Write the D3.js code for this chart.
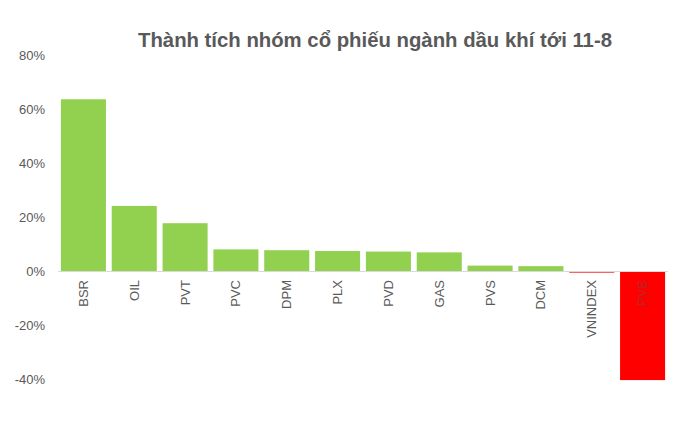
<!DOCTYPE html>
<html>
<head>
<meta charset="utf-8">
<script src="https://cdn.jsdelivr.net/npm/d3@7/dist/d3.min.js"></script>
<style>
  html, body { margin: 0; padding: 0; background: #fff; }
  svg { display: block; font-family: "Liberation Sans", Arial, Helvetica, sans-serif; }
</style>
</head>
<body>
<svg id="chart" width="682" height="426"></svg>
<script>
const title = "Thành tích nhóm cổ phiếu ngành dầu khí tới 11-8";
const categories = ["BSR", "OIL", "PVT", "PVC", "DPM", "PLX", "PVD", "GAS", "PVS", "DCM", "VNINDEX", "PVB"];
const values = [63.6, 24.1, 17.7, 8.0, 7.7, 7.4, 7.2, 6.9, 2.0, 1.8, -0.6, -40.4];
const yTicks = [-40, -20, 0, 20, 40, 60, 80];

const svg = d3.select("#chart");

const x = d3.scaleBand()
  .domain(categories)
  .range([58, 668])
  .paddingInner(0.114)
  .paddingOuter(0.057);

const y = d3.scaleLinear()
  .domain([-40, 80])
  .range([379, 55]);

// Title
svg.append("text")
  .attr("x", 375)
  .attr("y", 47)
  .attr("text-anchor", "middle")
  .attr("font-size", 20)
  .attr("font-weight", "bold")
  .attr("fill", "#595959")
  .attr("textLength", 474)
  .attr("lengthAdjust", "spacingAndGlyphs")
  .text(title);

// Y axis labels
const yAxis = d3.axisLeft(y)
  .tickValues(yTicks)
  .tickSize(0)
  .tickPadding(0)
  .tickFormat(d => d + "%");
const yg = svg.append("g")
  .attr("transform", "translate(45,0)")
  .call(yAxis);
yg.select(".domain").remove();
yg.selectAll("text")
  .attr("font-size", 13)
  .attr("fill", "#595959")
  .attr("font-family", "'Liberation Sans', Arial, sans-serif");

// Bars
svg.append("g")
  .selectAll("rect")
  .data(categories.map((c, i) => ({ c, v: values[i] })))
  .join("rect")
  .attr("x", d => x(d.c))
  .attr("width", x.bandwidth())
  .attr("y", d => Math.min(y(d.v), y(0)))
  .attr("height", d => Math.max(1.5, Math.abs(y(d.v) - y(0))))
  .attr("fill", d => d.v >= 0 ? "#92d050" : "#ff0000");

// Zero line
svg.append("line")
  .attr("x1", x.range()[0])
  .attr("x2", x.range()[1])
  .attr("y1", y(0) + 0.5)
  .attr("y2", y(0) + 0.5)
  .attr("stroke", "#d9d9d9")
  .attr("stroke-width", 1);

// Category labels (rotated)
const xg = svg.append("g");
categories.forEach((c, i) => {
  const cx = x(c) + x.bandwidth() / 2;
  const ty = y(0) + 9;
  const overBar = values[i] < -5;
  xg.append("text")
    .attr("transform", `translate(${cx + 4.5},${ty}) rotate(-90)`)
    .attr("text-anchor", "end")
    .attr("font-size", 13)
    .attr("fill", "#595959")
    .attr("opacity", overBar ? 0.4 : 1)
    .text(c);
});
</script>
</body>
</html>
